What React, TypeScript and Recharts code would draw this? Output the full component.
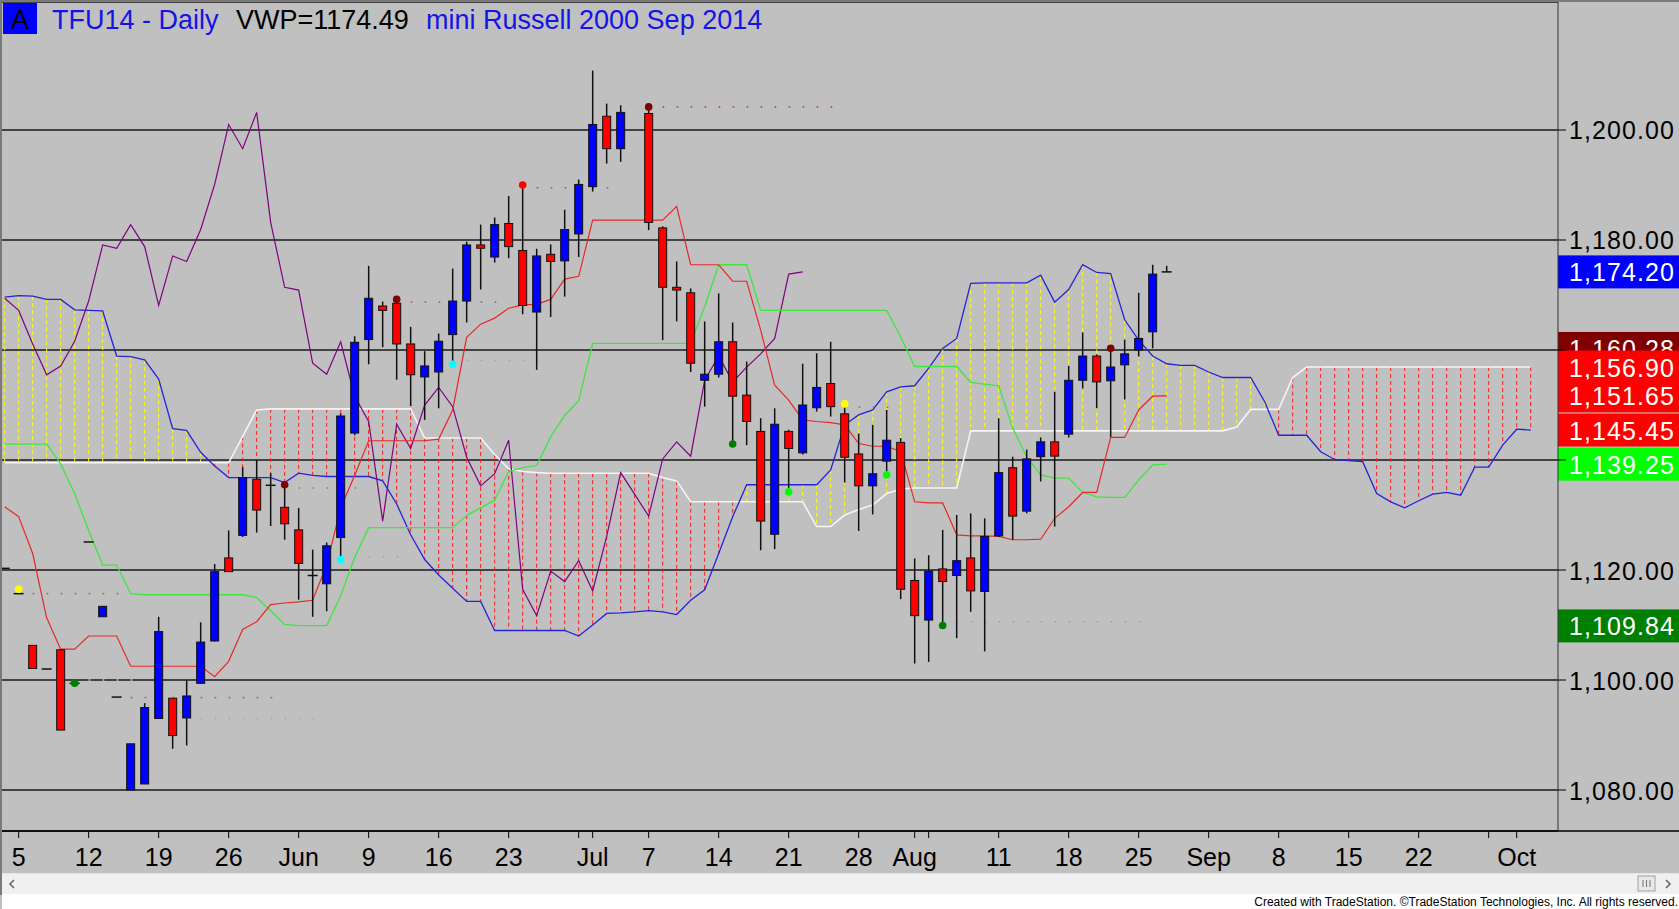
import React from "react";
import { Bar, CartesianGrid, ComposedChart, Line, ReferenceLine, Scatter, XAxis, YAxis } from "recharts";

const FONT = '"Liberation Sans", Arial, sans-serif';
const FIRST_SLOT = -1; // May 2; slot 0 = May 5, one slot per weekday
const LAST_SLOT = 108;

// [open, high, low, close] per slot, slot -1 .. 82 (null = Jul 4, no session)
const candles: ([number, number, number, number] | null)[] = [
  [1120.3, 1120.3, 1120.3, 1120.3],
  [1115.7, 1115.7, 1115.7, 1115.7], [1106.3, 1106.3, 1102.1, 1102.1], [1102.0, 1102.0, 1102.0, 1102.0], [1105.5, 1105.6, 1090.9, 1090.9], [1099.4, 1099.4, 1099.4, 1099.4],
  [1125.1, 1125.1, 1125.1, 1125.1], [1111.5, 1113.4, 1111.5, 1113.4], [1096.9, 1096.9, 1096.9, 1096.9], [1080.0, 1088.4, 1080.0, 1088.4], [1081.1, 1095.8, 1081.1, 1095.0],
  [1093.0, 1111.5, 1093.0, 1108.8], [1096.7, 1096.7, 1087.5, 1089.9], [1093.1, 1100.0, 1088.1, 1097.1], [1099.4, 1110.5, 1099.4, 1106.9], [1107.1, 1121.1, 1107.0, 1119.7],
  [1122.2, 1127.2, 1119.7, 1119.7], [1126.3, 1138.7, 1126.0, 1136.8], [1136.5, 1140.1, 1126.8, 1130.9], [1135.4, 1137.6, 1128.0, 1135.2], [1131.4, 1135.5, 1125.5, 1128.4],
  [1127.3, 1131.3, 1114.6, 1121.2], [1119.0, 1123.7, 1111.5, 1118.8], [1117.5, 1125.0, 1112.5, 1124.4], [1125.9, 1148.5, 1121.9, 1148.0], [1144.9, 1162.5, 1144.5, 1161.4],
  [1161.9, 1175.3, 1157.4, 1169.4], [1168.0, 1168.8, 1160.5, 1167.2], [1168.5, 1169.2, 1154.6, 1161.1], [1161.1, 1164.2, 1149.8, 1155.5], [1155.1, 1159.8, 1147.3, 1157.1],
  [1156.0, 1163.0, 1149.4, 1161.6], [1162.8, 1174.8, 1157.4, 1168.9], [1168.9, 1179.7, 1165.0, 1179.1], [1179.1, 1182.8, 1171.0, 1178.5], [1176.9, 1184.1, 1175.9, 1182.8],
  [1183.0, 1188.0, 1176.7, 1178.8], [1178.1, 1190.0, 1166.5, 1168.1], [1166.9, 1178.4, 1156.4, 1177.1], [1177.4, 1179.2, 1166.0, 1176.1], [1176.2, 1185.5, 1169.7, 1181.9],
  [1181.1, 1191.0, 1176.9, 1190.1], [1189.7, 1210.8, 1188.8, 1201.0], [1202.5, 1204.8, 1193.9, 1196.6], [1196.6, 1204.5, 1194.2, 1203.2], null,
  [1203.0, 1204.2, 1181.8, 1183.2], [1182.2, 1182.5, 1161.8, 1171.4], [1171.4, 1176.1, 1165.2, 1170.9], [1170.4, 1171.2, 1156.0, 1157.6], [1154.5, 1165.2, 1149.7, 1155.6],
  [1155.6, 1170.3, 1155.0, 1161.5], [1161.5, 1165.0, 1142.9, 1151.6], [1151.8, 1157.9, 1142.7, 1147.0], [1145.2, 1147.6, 1123.6, 1128.9], [1126.5, 1149.4, 1123.8, 1146.5],
  [1145.2, 1145.5, 1134.2, 1142.1], [1141.3, 1157.5, 1141.0, 1150.0], [1149.5, 1159.4, 1148.8, 1153.2], [1153.9, 1161.5, 1147.9, 1149.7], [1148.4, 1150.2, 1135.9, 1140.5],
  [1141.1, 1144.8, 1127.1, 1135.3], [1135.3, 1146.4, 1130.1, 1137.5], [1139.8, 1149.1, 1137.3, 1143.6], [1143.2, 1144.0, 1114.7, 1116.5], [1118.1, 1122.1, 1103.0, 1111.7],
  [1110.9, 1122.7, 1103.3, 1119.8], [1120.2, 1127.3, 1109.9, 1117.9], [1119.0, 1130.0, 1107.6, 1121.7], [1122.2, 1130.3, 1112.4, 1116.2], [1116.1, 1129.4, 1105.2, 1126.1],
  [1126.2, 1147.6, 1126.0, 1137.7], [1138.6, 1140.6, 1125.5, 1129.8], [1130.7, 1141.9, 1130.3, 1140.2], [1140.6, 1144.1, 1136.1, 1143.3], [1143.3, 1152.4, 1127.9, 1140.7],
  [1144.7, 1157.1, 1144.1, 1154.5], [1154.5, 1163.2, 1153.0, 1158.9], [1158.9, 1159.2, 1149.4, 1154.2], [1154.4, 1160.3, 1144.2, 1156.9], [1157.3, 1161.9, 1151.0, 1159.3],
  [1160.0, 1170.4, 1158.8, 1162.1], [1163.3, 1175.5, 1160.3, 1173.8], [1174.2, 1175.3, 1174.2, 1174.2],
];

// conversion line (red), slot -1 .. 82
const tenkan = [
  1131.5,
  1129.7, 1123.0, 1111.3, 1105.6, 1105.6,
  1108.0, 1108.0, 1108.0, 1102.5, 1102.5,
  1102.5, 1102.5, 1102.5, 1102.5, 1100.6,
  1103.4, 1109.2, 1110.6, 1113.7, 1114.0,
  1114.2, 1114.5, 1120.9, 1131.3, 1137.2,
  1143.5, 1143.5, 1143.5, 1143.5, 1143.5,
  1143.8, 1149.1, 1162.3, 1164.7, 1165.8,
  1167.6, 1168.2, 1168.3, 1169.2, 1172.9,
  1173.4, 1183.6, 1183.6, 1183.6, 1183.6,
  1183.6, 1183.6, 1186.1, 1175.5, 1175.5,
  1175.5, 1172.5, 1172.5, 1163.6, 1153.6,
  1150.9, 1147.3, 1147.0, 1146.8, 1146.4,
  1143.0, 1142.5, 1142.5, 1141.5, 1132.4,
  1132.2, 1132.2, 1126.4, 1126.2, 1126.2,
  1126.1, 1125.5, 1125.5, 1125.6, 1129.4,
  1131.5, 1134.1, 1134.1, 1144.1, 1144.1,
  1149.1, 1151.6, 1151.65,
];

// base line (green), slot -1 .. 82
const kijun = [
  1142.9,
  1142.9, 1142.9, 1142.9, 1139.3, 1133.9,
  1127.2, 1120.9, 1120.9, 1115.7, 1115.5,
  1115.5, 1115.5, 1115.5, 1115.5, 1115.5,
  1115.5, 1115.5, 1115.0, 1112.6, 1110.1,
  1109.9, 1109.9, 1109.9, 1115.3, 1122.3,
  1127.7, 1127.7, 1127.7, 1127.7, 1127.7,
  1127.7, 1127.7, 1129.9, 1131.3, 1132.7,
  1137.9, 1138.6, 1139.0, 1144.2, 1148.1,
  1150.8, 1161.2, 1161.2, 1161.2, 1161.2,
  1161.2, 1161.2, 1161.2, 1161.2, 1167.9,
  1175.5, 1175.5, 1175.5, 1167.2, 1167.2,
  1167.2, 1167.2, 1167.2, 1167.2, 1167.2,
  1167.2, 1167.2, 1167.2, 1162.4, 1157.0,
  1157.0, 1157.0, 1157.0, 1154.1, 1153.8,
  1153.5, 1145.8, 1140.6, 1137.3, 1136.7,
  1136.7, 1134.1, 1133.3, 1133.2, 1133.2,
  1136.4, 1139.1, 1139.25,
];

// leading span A (white), slot -1 .. 108
const spanA = [
  1139.5,
  1139.5, 1139.5, 1139.5, 1139.5, 1139.5,
  1139.5, 1139.5, 1139.5, 1139.5, 1139.5,
  1139.5, 1139.5, 1139.5, 1139.5, 1139.5,
  1139.5, 1144.3, 1149.1, 1149.3, 1149.3,
  1149.3, 1149.3, 1149.3, 1149.3, 1149.3,
  1149.3, 1149.3, 1149.3, 1149.3, 1144.0,
  1144.0, 1144.0, 1144.0, 1144.0, 1141.0,
  1138.4, 1137.9, 1137.7, 1137.6, 1137.6,
  1137.6, 1137.6, 1137.6, 1137.6, 1137.6,
  1137.6, 1136.8, 1136.2, 1132.4, 1132.4,
  1132.4, 1132.4, 1132.4, 1132.4, 1132.4,
  1132.4, 1132.4, 1127.9, 1127.9, 1130.0,
  1131.0, 1131.8, 1133.9, 1134.7, 1134.9,
  1134.9, 1134.9, 1134.9, 1145.3, 1145.3,
  1145.3, 1145.3, 1145.3, 1145.3, 1145.3,
  1145.3, 1145.3, 1145.3, 1145.3, 1145.3,
  1145.3, 1145.3, 1145.3, 1145.3, 1145.3,
  1145.3, 1145.3, 1146.0, 1149.2, 1149.2,
  1149.2, 1155.0, 1156.9, 1156.9, 1156.9,
  1156.9, 1156.9, 1156.9, 1156.9, 1156.9,
  1156.9, 1156.9, 1156.9, 1156.9, 1156.9,
  1156.9, 1156.9, 1156.9, 1156.9,
];

// leading span B (blue), slot -1 .. 108
const spanB = [
  1169.6,
  1169.9, 1169.8, 1169.2, 1169.2, 1167.3,
  1167.2, 1167.1, 1158.9, 1158.8, 1158.2,
  1154.7, 1145.7, 1145.4, 1141.4, 1138.9,
  1136.8, 1136.8, 1136.8, 1136.8, 1135.9,
  1137.6, 1137.2, 1137.0, 1137.0, 1137.0,
  1137.0, 1136.2, 1132.0, 1126.4, 1121.9,
  1119.1, 1116.7, 1114.3, 1114.3, 1109.0,
  1109.0, 1109.0, 1109.0, 1109.0, 1109.0,
  1108.0, 1110.0, 1112.1, 1112.2, 1112.4,
  1112.6, 1112.4, 1111.9, 1114.5, 1116.4,
  1123.0, 1129.7, 1135.5, 1135.5, 1135.5,
  1135.5, 1135.5, 1135.5, 1138.2, 1146.4,
  1148.2, 1149.1, 1152.4, 1153.3, 1153.5,
  1156.7, 1160.3, 1162.1, 1172.1, 1172.2,
  1172.2, 1172.2, 1172.2, 1173.6, 1168.7,
  1171.0, 1175.5, 1174.1, 1173.9, 1165.5,
  1161.8, 1158.9, 1157.5, 1157.2, 1157.2,
  1156.0, 1155.0, 1155.0, 1155.0, 1150.6,
  1144.5, 1144.5, 1144.5, 1141.5, 1140.1,
  1139.9, 1139.7, 1133.9, 1132.4, 1131.3,
  1132.6, 1133.8, 1134.1, 1133.6, 1138.7,
  1138.7, 1142.7, 1145.6, 1145.45,
];

// lagging span (purple), slot -1 .. 56
const chikou = [
  1169.4,
  1167.2, 1161.1, 1155.5, 1157.1, 1161.6,
  1168.9, 1179.1, 1178.5, 1182.8, 1178.8,
  1168.1, 1177.1, 1176.1, 1181.9, 1190.1,
  1201.0, 1196.6, 1203.2, 1183.2, 1171.4,
  1170.9, 1157.6, 1155.6, 1161.5, 1151.6,
  1147.0, 1128.9, 1146.5, 1142.1, 1150.0,
  1153.2, 1149.7, 1140.5, 1135.3, 1137.5,
  1143.6, 1116.5, 1111.7, 1119.8, 1117.9,
  1121.7, 1116.2, 1126.1, 1137.7, null,
  1129.8, 1140.2, 1143.3, 1140.7, 1154.5,
  1158.9, 1154.2, 1156.9, 1159.3, 1162.1,
  1173.8, 1174.2,
];

const dateTicks = [0, 5, 10, 15, 20, 25, 30, 35, 40, 41, 45, 50, 55, 60, 64, 65, 70, 75, 80, 85, 90, 95, 100, 105, 107];
const dateLabels = ["5", "12", "19", "26", "Jun", "9", "16", "23", "", "Jul", "7", "14", "21", "28", "Aug", "", "11", "18", "25", "Sep", "8", "15", "22", "", "Oct"];
const priceTicks = [1080, 1100, 1120, 1140, 1160, 1180, 1200];
const coveredTicks = [1140, 1160]; // hidden behind the price flags

const markers = [
  { i: 0, p: 1116.5, color: "#ffff00" },
  { i: 4, p: 1099.4, color: "#008000" },
  { i: 19, p: 1135.5, color: "#800000" },
  { i: 23, p: 1121.9, color: "#00ffff" },
  { i: 27, p: 1169.2, color: "#800000" },
  { i: 31, p: 1157.4, color: "#00ffff" },
  { i: 36, p: 1190.0, color: "#ff0000" },
  { i: 45, p: 1204.2, color: "#800000" },
  { i: 51, p: 1142.9, color: "#008000" },
  { i: 55, p: 1134.2, color: "#00ff00" },
  { i: 59, p: 1150.2, color: "#ffff00" },
  { i: 62, p: 1137.3, color: "#00ff00" },
  { i: 66, p: 1109.9, color: "#008000" },
  { i: 78, p: 1160.3, color: "#800000" },
];

const dottedLevels = [
  { from: 1, to: 8, p: 1115.7, color: "#b86060" },
  { from: 5, to: 9, p: 1100.0, color: "#d8d8d8" },
  { from: 8, to: 19, p: 1096.8, color: "#b86060" },
  { from: 13, to: 22, p: 1093.0, color: "#a0a0a0" },
  { from: 20, to: 25, p: 1134.9, color: "#b86060" },
  { from: 24, to: 28, p: 1122.4, color: "#a0a0a0" },
  { from: 28, to: 35, p: 1168.7, color: "#b86060" },
  { from: 32, to: 38, p: 1158.1, color: "#a0a0a0" },
  { from: 37, to: 43, p: 1189.5, color: "#d04040" },
  { from: 46, to: 59, p: 1204.2, color: "#d04040" },
  { from: 60, to: 63, p: 1149.6, color: "#b86060" },
  { from: 67, to: 81, p: 1110.6, color: "#90a890" },
];

const flags = [
  { v: 1174.2, bg: "#0000ff" },
  { v: 1160.28, bg: "#800000" },
  { v: 1156.9, bg: "#ff0000" },
  { v: 1151.65, bg: "#ff0000" },
  { v: 1145.45, bg: "#ff0000" },
  { v: 1139.25, bg: "#00ff00" },
  { v: 1109.84, bg: "#008000" },
];

const rows = [];
for (let i = FIRST_SLOT; i <= LAST_SLOT; i++) {
  const k = i - FIRST_SLOT;
  const cd = candles[k];
  rows.push({
    i,
    o: cd ? cd[0] : null,
    h: cd ? cd[1] : null,
    l: cd ? cd[2] : null,
    c: cd ? cd[3] : null,
    ten: tenkan[k],
    kij: kijun[k],
    a: spanA[k],
    b: spanB[k],
    chi: chikou[k],
  });
}

const fmt = (v: number) => v.toLocaleString("en-US", { minimumFractionDigits: 2, maximumFractionDigits: 2 });

function Candle(props: any) {
  const { x, y, width, height, payload } = props;
  if (!payload || payload.h == null || !isFinite(y)) return null;
  const { o, h, l, c } = payload;
  const top = Math.min(y, y + height);
  const span = Math.abs(height);
  const k = h > l ? span / (h - l) : 0;
  const cx = x + width / 2;
  const yo = top + (h - o) * k;
  const yc = top + (h - c) * k;
  const bodyTop = Math.min(yo, yc);
  const bodyH = Math.abs(yc - yo);
  return (
    <g>
      {span > 0 && <line x1={cx} x2={cx} y1={top} y2={top + span} stroke="#111" strokeWidth={1.5} />}
      {bodyH >= 1.5 ? (
        <rect x={x} y={bodyTop} width={width} height={bodyH} fill={c >= o ? "#0000ff" : "#ff0000"} stroke="#111" strokeWidth={1} />
      ) : (
        <line x1={x - 1} x2={x + width + 1} y1={bodyTop} y2={bodyTop} stroke="#111" strokeWidth={1.5} />
      )}
    </g>
  );
}

function CloudDash(props: any) {
  const { x, y, width, height, payload } = props;
  if (!payload || payload.a == null || payload.b == null || !isFinite(y)) return null;
  const cx = x + width / 2;
  const top = Math.min(y, y + height);
  return (
    <line x1={cx} x2={cx} y1={top} y2={top + Math.abs(height)}
      stroke={payload.b > payload.a ? "#ffff00" : "#ff1a1a"} strokeWidth={1} strokeDasharray="4 3" />
  );
}

function MarkerDot(props: any) {
  const { cx, cy, payload } = props;
  if (!isFinite(cx) || !isFinite(cy)) return null;
  return <circle cx={cx} cy={cy} r={3.8} fill={payload.color} />;
}

function DateTick(props: any) {
  const { x, y, payload } = props;
  const idx = dateTicks.indexOf(payload.value);
  const label = idx >= 0 ? dateLabels[idx] : "";
  if (!label) return null;
  return (
    <text x={x} y={y + 26} textAnchor="middle" fontSize={25} fontFamily={FONT} fill="#000">{label}</text>
  );
}

function PriceTick(props: any) {
  const { x, y, payload } = props;
  if (coveredTicks.includes(payload.value)) return null;
  return (
    <text x={x + 1} y={y + 9.5} textAnchor="start" fontSize={25} letterSpacing={1.1} fontFamily={FONT} fill="#000">
      {fmt(payload.value)}
    </text>
  );
}

function Flag(props: any) {
  const { viewBox, v, bg } = props;
  if (!viewBox) return null;
  const x = viewBox.x + viewBox.width;
  const y = viewBox.y;
  return (
    <g>
      <rect x={x} y={y - 16.5} width={121} height={33} fill={bg} />
      <text x={x + 11} y={y + 9.5} fontSize={25} letterSpacing={1.1} fontFamily={FONT} fill="#fff">{fmt(v)}</text>
    </g>
  );
}

export default function App() {
  return (
    <div style={{ position: "absolute", left: 0, top: 0, width: 1679, height: 909, background: "#c0c0c0", overflow: "hidden", fontFamily: FONT }}>
      <ComposedChart width={1679} height={873} data={rows} margin={{ top: 2, right: 0, bottom: 0, left: 2 }}>
        <XAxis xAxisId="x" type="number" dataKey="i" domain={[-1.19, 109.95]} allowDataOverflow ticks={dateTicks} interval={0}
          height={42} tickSize={7} tickLine={{ stroke: "#000" }} axisLine={{ stroke: "#000", strokeWidth: 1.5 }} tick={<DateTick />} />
        <XAxis xAxisId="cloud" type="number" dataKey="i" domain={[-1.19, 109.95]} allowDataOverflow hide orientation="top" height={0} />
        <YAxis yAxisId="p" orientation="right" domain={[1072.55, 1223.27]} allowDataOverflow ticks={priceTicks} interval={0}
          width={121} tickSize={8} tickLine={{ stroke: "#000" }} axisLine={{ stroke: "#333" }} tick={<PriceTick />} />
        <CartesianGrid xAxisId="x" yAxisId="p" vertical={false} stroke="#1a1a1a" strokeWidth={1.3} />

        <Bar xAxisId="cloud" yAxisId="p" dataKey={(d: any) => (d.a == null || d.b == null ? null : [Math.min(d.a, d.b), Math.max(d.a, d.b)])}
          barSize={2} shape={<CloudDash />} isAnimationActive={false} />

        <Line xAxisId="x" yAxisId="p" dataKey="a" stroke="#f4f4f4" strokeWidth={1.6} dot={false} isAnimationActive={false} />
        <Line xAxisId="x" yAxisId="p" dataKey="b" stroke="#2424d8" strokeWidth={1.3} dot={false} isAnimationActive={false} />
        <Line xAxisId="x" yAxisId="p" dataKey="chi" stroke="#800080" strokeWidth={1.2} dot={false} connectNulls isAnimationActive={false} />
        <Line xAxisId="x" yAxisId="p" dataKey="kij" stroke="#3ee63e" strokeWidth={1.3} dot={false} isAnimationActive={false} />
        <Line xAxisId="x" yAxisId="p" dataKey="ten" stroke="#e82828" strokeWidth={1.2} dot={false} isAnimationActive={false} />

        {dottedLevels.map((d, n) => (
          <Line key={"lv" + n} xAxisId="x" yAxisId="p" data={[{ i: d.from, p: d.p }, { i: d.to, p: d.p }]} dataKey="p"
            stroke={d.color} strokeWidth={1.6} strokeDasharray="1.6 12.4" dot={false} isAnimationActive={false} />
        ))}

        <Bar xAxisId="x" yAxisId="p" dataKey={(d: any) => (d.h == null ? null : [d.l, d.h])} barSize={8}
          shape={<Candle />} isAnimationActive={false} zIndex={450} />

        <Scatter xAxisId="x" yAxisId="p" data={markers} dataKey="p" shape={<MarkerDot />} isAnimationActive={false} />

        {flags.map((f) => (
          <ReferenceLine key={f.v} xAxisId="x" yAxisId="p" y={f.v} stroke="none" label={<Flag v={f.v} bg={f.bg} />} />
        ))}
      </ComposedChart>

      <svg width={1679} height={909} style={{ position: "absolute", left: 0, top: 0, pointerEvents: "none" }}>
        <line x1={0} x2={1679} y1={1} y2={1} stroke="#7a7a7a" strokeWidth={2} />
        <line x1={1} x2={1} y1={0} y2={895} stroke="#7a7a7a" strokeWidth={2} />
        <line x1={1558} x2={1679} y1={831} y2={831} stroke="#000" strokeWidth={1.5} />
        <rect x={3} y={3} width={34} height={31} fill="#0000ff" />
        <text x={20} y={29} textAnchor="middle" fontSize={27} fontFamily={FONT} fill="#000">A</text>
        <text y={29} fontSize={27} fontFamily={FONT}>
          <tspan x={52} fill="#1414e6">TFU14 - Daily</tspan>
          <tspan x={236} fill="#000">VWP=1174.49</tspan>
          <tspan x={426} fill="#1414e6">mini Russell 2000 Sep 2014</tspan>
        </text>
      </svg>

      <div style={{ position: "absolute", left: 2, top: 873, width: 1677, height: 20, background: "#f0f0f0", borderTop: "1px solid #e4e4e4" }}>
        <svg width={1677} height={20} style={{ position: "absolute", left: 0, top: 0 }}>
          <path d="M12 6 L8 10 L12 14" fill="none" stroke="#606060" strokeWidth={1.5} />
          <rect x={1636} y={2} width={17} height={15} fill="#e8e8e8" stroke="#a0a0a0" />
          <line x1={1641} x2={1641} y1={6} y2={13} stroke="#707070" />
          <line x1={1644.5} x2={1644.5} y1={6} y2={13} stroke="#707070" />
          <line x1={1648} x2={1648} y1={6} y2={13} stroke="#707070" />
          <path d="M1664 6 L1668 10 L1664 14" fill="none" stroke="#606060" strokeWidth={1.5} />
        </svg>
      </div>
      <div style={{ position: "absolute", left: 2, top: 894, width: 1677, height: 15, background: "#ffffff" }}>
        <div style={{ position: "absolute", right: 1, top: 1, fontSize: 12, fontFamily: '"Liberation Sans Narrow", "Liberation Sans", Arial, sans-serif', color: "#000", whiteSpace: "nowrap" }}>
          Created with TradeStation. ©TradeStation Technologies, Inc. All rights reserved.
        </div>
      </div>
    </div>
  );
}
